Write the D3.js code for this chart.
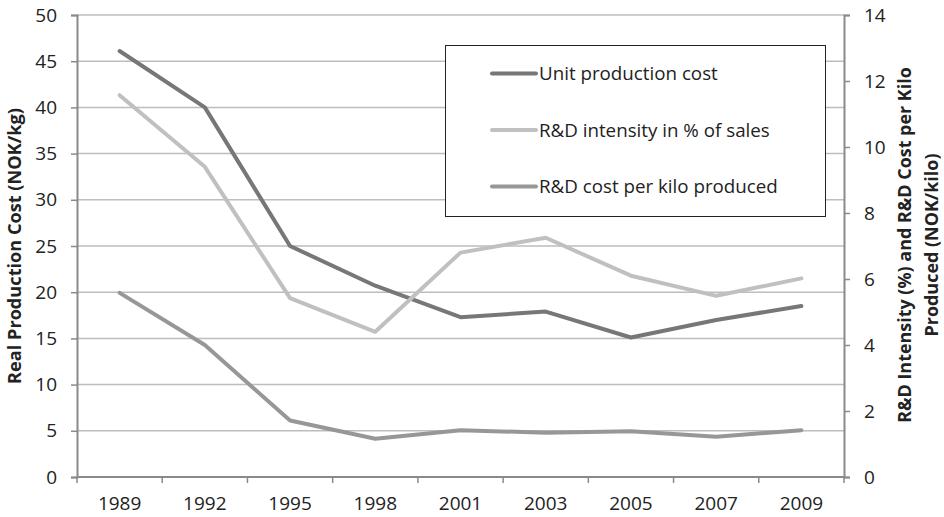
<!DOCTYPE html>
<html><head><meta charset="utf-8">
<script src="https://cdn.jsdelivr.net/npm/d3@7"></script>
<style>body{margin:0;background:#fff}svg{display:block}text{font-family:"Open Sans",sans-serif;fill:#222}</style>
</head><body><svg id="c" width="944" height="517"></svg>
<script>
const years = ["1989","1992","1995","1998","2001","2003","2005","2007","2009"];
const unitCost = [46.1, 40.0, 25.0, 20.7, 17.3, 17.9, 15.1, 17.0, 18.5];
const rdIntensity = [11.57, 9.40, 5.42, 4.40, 6.80, 7.25, 6.10, 5.49, 6.02];
const rdCostPerKilo = [5.58, 4.00, 1.71, 1.16, 1.42, 1.34, 1.39, 1.22, 1.42];
const leftTicks = [0,5,10,15,20,25,30,35,40,45,50];
const rightTicks = [0,2,4,6,8,10,12,14];
const seriesNames = ["Unit production cost","R&D intensity in % of sales","R&D cost per kilo produced"];

const svg = d3.select("#c");
const L=77, R=844, T=15, B=477;
const x = d3.scaleBand().domain(years).range([L,R]);
const yL = d3.scaleLinear().domain([0,50]).range([B,T]);
const yR = d3.scaleLinear().domain([0,14]).range([B,T]);
const gridCol="#bdbdbd", axisCol="#8a8a8a";

function fit(sel, target){
  const n = sel.node(); const fs = parseFloat(sel.attr("font-size"));
  const w = n.getComputedTextLength();
  if (w>0) sel.attr("font-size", (fs*target/w).toFixed(2));
}

// gridlines
svg.append("g").selectAll("line").data(leftTicks.filter(d=>d>0)).join("line")
  .attr("x1",L).attr("x2",R).attr("y1",d=>yL(d)).attr("y2",d=>yL(d))
  .attr("stroke",gridCol).attr("stroke-width",1.5);

const gl = svg.append("g").attr("transform",`translate(${L},0)`)
  .call(d3.axisLeft(yL).tickValues(leftTicks).tickSize(6).tickPadding(14));
const gr = svg.append("g").attr("transform",`translate(${R},0)`)
  .call(d3.axisRight(yR).tickValues(rightTicks).tickSize(6).tickPadding(14));
const gb = svg.append("g").attr("transform",`translate(0,${B})`)
  .call(d3.axisBottom(x).tickSize(0).tickPadding(20));
svg.append("g").selectAll("line").data(d3.range(years.length+1)).join("line")
  .attr("x1",i=>L+i*x.step()).attr("x2",i=>L+i*x.step()).attr("y1",B).attr("y2",B+6)
  .attr("stroke",axisCol).attr("stroke-width",1.5);

[gl,gr,gb].forEach(g=>{
  g.select(".domain").attr("stroke",axisCol).attr("stroke-width",2);
  g.selectAll(".tick line").attr("stroke",axisCol).attr("stroke-width",1.5);
  g.selectAll(".tick text").attr("font-size",19).attr("fill","#222").attr("font-family","Open Sans");
});
gb.select(".domain").attr("d",`M${L},0H${R}`);

const cx = d=>x(d)+x.bandwidth()/2;
const series = [
  {vals:unitCost, y:yL, color:"#777777"},
  {vals:rdIntensity, y:yR, color:"#c0c0c0"},
  {vals:rdCostPerKilo, y:yR, color:"#979797"}
];
series.forEach(s=>{
  const line = d3.line().x((d,i)=>cx(years[i])).y(d=>s.y(d));
  svg.append("path").datum(s.vals).attr("d",line).attr("fill","none")
    .attr("stroke",s.color).attr("stroke-width",4).attr("stroke-linecap","round").attr("stroke-linejoin","round");
});

// legend
const lg = svg.append("g");
lg.append("rect").attr("x",445.5).attr("y",45.5).attr("width",380).attr("height",171)
  .attr("fill","#fff").attr("stroke","#222").attr("stroke-width",1);
const rowY = [73.5,130,186.5];
const ltexts = [];
seriesNames.forEach((n,i)=>{
  lg.append("line").attr("x1",492).attr("x2",536).attr("y1",rowY[i]).attr("y2",rowY[i])
    .attr("stroke",series[i].color).attr("stroke-width",4).attr("stroke-linecap","round");
  ltexts.push(lg.append("text").attr("x",539).attr("y",rowY[i]).attr("dy","0.35em").attr("font-size",17.5).text(n));
});
fit(ltexts[2], 239);
const lfs = ltexts[2].attr("font-size");
ltexts.forEach(t=>t.attr("font-size",lfs));

// axis titles
const lt = svg.append("text").attr("transform",`translate(21,${(T+B)/2}) rotate(-90)`)
  .attr("text-anchor","middle").attr("font-size",16).attr("font-weight","bold").text("Real Production Cost (NOK/kg)");
fit(lt, 276);
const rt1 = svg.append("text").attr("transform",`translate(911,245) rotate(-90)`)
  .attr("text-anchor","middle").attr("font-size",16).attr("font-weight","bold")
  .text("R&D Intensity (%) and R&D Cost per Kilo");
fit(rt1, 356);
svg.append("text").attr("transform",`translate(938,245) rotate(-90)`)
  .attr("text-anchor","middle").attr("font-size",rt1.attr("font-size")).attr("font-weight","bold")
  .text("Produced (NOK/kilo)");
</script></body></html>
